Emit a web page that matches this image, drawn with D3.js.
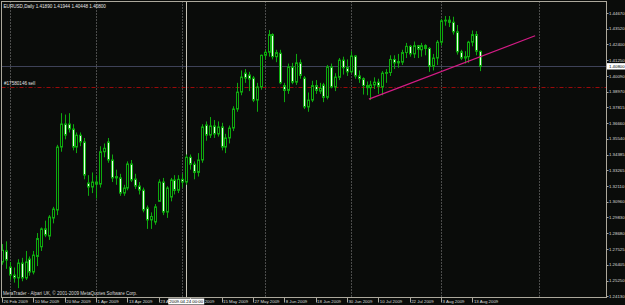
<!DOCTYPE html>
<html>
<head>
<meta charset="utf-8">
<script src="https://cdn.jsdelivr.net/npm/d3@7"></script>
<style>
  body { margin: 0; background: #0a0c0a; }
  svg { display: block; }
</style>
</head>
<body>
<div id="chart"></div>
<script>
// EURUSD daily bars, 26 Feb 2009 .. 17 Aug 2009
const opens = [
  1.2660, 1.2740, 1.2623, 1.2565, 1.2544, 1.2652, 1.2544, 1.2681, 1.2587, 1.2700,
  1.2770, 1.2900, 1.2848, 1.2979, 1.3037, 1.3494, 1.3661, 1.3661, 1.3625, 1.3494,
  1.3580, 1.3531, 1.3233, 1.3204, 1.3240, 1.3225, 1.3460, 1.3531, 1.3400, 1.3270,
  1.3270, 1.3160, 1.3197, 1.3371, 1.3262, 1.3211, 1.3182, 1.3052, 1.2965, 1.2950,
  1.3100, 1.3240, 1.3022, 1.3131, 1.3255, 1.3180, 1.3260, 1.3240, 1.3420, 1.3370,
  1.3310, 1.3400, 1.3654, 1.3581, 1.3647, 1.3589, 1.3640, 1.3494, 1.3560, 1.3632,
  1.3770, 1.3893, 1.4031, 1.4017, 1.3995, 1.3835, 1.3930, 1.4160, 1.4182, 1.4310,
  1.4150, 1.4175, 1.3940, 1.3905, 1.4075, 1.3965, 1.4105, 1.3995, 1.3785, 1.3835,
  1.3940, 1.3900, 1.3945, 1.3855, 1.4075, 1.3930, 1.4000, 1.4125, 1.4070, 1.4040,
  1.4155, 1.4010, 1.3990, 1.3940, 1.3925, 1.3945, 1.3965, 1.3930, 1.4030, 1.4035,
  1.4130, 1.4105, 1.4110, 1.4180, 1.4225, 1.4170, 1.4230, 1.4200, 1.4230, 1.4210,
  1.4080, 1.4140, 1.4255, 1.4410, 1.4415, 1.4400, 1.4330, 1.4185, 1.4140, 1.4150,
  1.4255, 1.4310, 1.4189
];
const highs = [
  1.2790, 1.2810, 1.2660, 1.2620, 1.2680, 1.2690, 1.2740, 1.2700, 1.2740, 1.2870,
  1.2910, 1.2960, 1.3000, 1.3060, 1.3510, 1.3740, 1.3730, 1.3740, 1.3660, 1.3600,
  1.3600, 1.3560, 1.3290, 1.3310, 1.3290, 1.3500, 1.3520, 1.3560, 1.3440, 1.3330,
  1.3300, 1.3220, 1.3390, 1.3400, 1.3300, 1.3240, 1.3200, 1.3070, 1.3020, 1.3080,
  1.3260, 1.3270, 1.3210, 1.3270, 1.3290, 1.3290, 1.3300, 1.3440, 1.3440, 1.3390,
  1.3450, 1.3660, 1.3680, 1.3712, 1.3690, 1.3680, 1.3670, 1.3590, 1.3650, 1.3790,
  1.3960, 1.4050, 1.4060, 1.4040, 1.4010, 1.3960, 1.4165, 1.4200, 1.4343, 1.4320,
  1.4200, 1.4200, 1.3960, 1.4100, 1.4105, 1.4170, 1.4130, 1.4010, 1.3890, 1.3975,
  1.3980, 1.3960, 1.3960, 1.4090, 1.4100, 1.4030, 1.4140, 1.4150, 1.4130, 1.4190,
  1.4160, 1.4050, 1.4000, 1.3970, 1.3975, 1.4000, 1.3990, 1.4045, 1.4060, 1.4160,
  1.4160, 1.4170, 1.4200, 1.4250, 1.4235, 1.4260, 1.4235, 1.4250, 1.4240, 1.4220,
  1.4170, 1.4270, 1.4425, 1.4445, 1.4445, 1.4440, 1.4380, 1.4200, 1.4190, 1.4265,
  1.4340, 1.4335, 1.4194
];
const lows = [
  1.2640, 1.2610, 1.2530, 1.2510, 1.2470, 1.2520, 1.2530, 1.2560, 1.2570, 1.2630,
  1.2740, 1.2840, 1.2820, 1.2940, 1.3000, 1.3460, 1.3550, 1.3600, 1.3470, 1.3450,
  1.3500, 1.3260, 1.3140, 1.3160, 1.3120, 1.3200, 1.3420, 1.3380, 1.3240, 1.3220,
  1.3140, 1.3140, 1.3180, 1.3240, 1.3190, 1.3150, 1.3020, 1.2900, 1.2900, 1.2930,
  1.3100, 1.3000, 1.2980, 1.3100, 1.3150, 1.3160, 1.3200, 1.3220, 1.3330, 1.3260,
  1.3280, 1.3380, 1.3540, 1.3560, 1.3560, 1.3570, 1.3470, 1.3450, 1.3520, 1.3610,
  1.3750, 1.3870, 1.3960, 1.3900, 1.3820, 1.3750, 1.3910, 1.4130, 1.4150, 1.4130,
  1.4110, 1.3950, 1.3820, 1.3880, 1.3950, 1.3945, 1.3990, 1.3770, 1.3750, 1.3820,
  1.3880, 1.3880, 1.3820, 1.3840, 1.3920, 1.3900, 1.3980, 1.4020, 1.4010, 1.4030,
  1.3990, 1.3960, 1.3875, 1.3870, 1.3835, 1.3915, 1.3880, 1.3870, 1.3960, 1.4010,
  1.4060, 1.4070, 1.4090, 1.4140, 1.4150, 1.4140, 1.4140, 1.4150, 1.4160, 1.4040,
  1.4050, 1.4090, 1.4230, 1.4375, 1.4365, 1.4310, 1.4165, 1.4125, 1.4100, 1.4105,
  1.4225, 1.4160, 1.4045
];
const closes = [
  1.2745, 1.2674, 1.2565, 1.2544, 1.2652, 1.2544, 1.2660, 1.2587, 1.2710, 1.2830,
  1.2900, 1.2856, 1.2986, 1.3044, 1.3494, 1.3661, 1.3581, 1.3625, 1.3494, 1.3580,
  1.3531, 1.3291, 1.3204, 1.3240, 1.3225, 1.3460, 1.3485, 1.3400, 1.3270, 1.3280,
  1.3160, 1.3197, 1.3371, 1.3255, 1.3211, 1.3182, 1.3037, 1.2965, 1.2990, 1.3060,
  1.3240, 1.3022, 1.3197, 1.3255, 1.3180, 1.3260, 1.3240, 1.3420, 1.3370, 1.3310,
  1.3400, 1.3640, 1.3581, 1.3647, 1.3589, 1.3640, 1.3494, 1.3560, 1.3632, 1.3770,
  1.3893, 1.4002, 1.3995, 1.3988, 1.3835, 1.3930, 1.4160, 1.4182, 1.4310, 1.4150,
  1.4180, 1.3960, 1.3905, 1.4075, 1.3965, 1.4105, 1.4015, 1.3785, 1.3835, 1.3940,
  1.3905, 1.3920, 1.3855, 1.4075, 1.3930, 1.4002, 1.4125, 1.4070, 1.4040, 1.4155,
  1.4010, 1.3990, 1.3940, 1.3925, 1.3945, 1.3965, 1.3935, 1.4030, 1.4035, 1.4130,
  1.4105, 1.4115, 1.4180, 1.4225, 1.4170, 1.4230, 1.4205, 1.4230, 1.4210, 1.4080,
  1.4140, 1.4255, 1.4410, 1.4415, 1.4400, 1.4330, 1.4185, 1.4140, 1.4150, 1.4255,
  1.4310, 1.4190, 1.4080
];

// date labels along the bottom, one every 8 bars
const xLabels = ["26 Feb 2009", "10 Mar 2009", "20 Mar 2009", "1 Apr 2009", "13 Apr 2009",
  "23 Apr 2009", "5 May 2009", "15 May 2009", "27 May 2009", "8 Jun 2009", "18 Jun 2009",
  "30 Jun 2009", "10 Jul 2009", "22 Jul 2009", "3 Aug 2009", "13 Aug 2009"];
const labelStep = 8;

// price scale labels on the right
const priceTicks = [1.24130, 1.25250, 1.26405, 1.27525, 1.28680, 1.29830, 1.30960, 1.32110,
  1.33265, 1.34385, 1.35540, 1.36660, 1.37815, 1.38970, 1.40090, 1.41250, 1.42400,
  1.43520, 1.44670];

// month separators (bar index) - dotted grid
const gridBars = [2, 24, 46, 67, 89, 112, 137];

// objects on the chart
const headerText = "EURUSD,Daily  1.41890 1.41944 1.40448 1.40800";
const bidPrice = 1.40800;
const orderPrice = 1.3930;
const orderLabel = "#17580146 sell";
const vlineBar = 47;
const vlineLabel = "2009.04.24 00:00";
const trendBars = [93.6, 136];
const trendPrices = [1.3842, 1.4302];
const copyright = "MetaTrader - Alpari UK, \u00a9 2001-2009 MetaQuotes Software Corp.";

const width = 625;
const height = 305;
const plot = { left: 1.5, right: 606.5, top: 1.5, bottom: 297.5 };
const bg = "#0a0c0a";
const candleGreen = "#0eaa0e";
const font = "'Liberation Sans', Arial, sans-serif";
const fs = 4.6;
const axisFs = 4.35;

const svg = d3.select("#chart").append("svg")
  .attr("width", width)
  .attr("height", height)
  .style("background", bg);

const x = d3.scaleLinear().domain([0, opens.length - 1]).range([2, 2 + (opens.length - 1) * 3.92]);
const y = d3.scaleLinear().domain([1.2413, 1.4467]).range([296, 13]);

svg.append("clipPath").attr("id", "plotclip")
  .append("rect")
  .attr("x", plot.left + 0.5).attr("y", plot.top + 0.5)
  .attr("width", plot.right - plot.left - 1).attr("height", plot.bottom - plot.top - 1);

const g = svg.append("g").attr("clip-path", "url(#plotclip)");

// dotted month grid
g.selectAll("line.grid")
  .data(gridBars)
  .enter().append("line")
  .attr("class", "grid")
  .attr("x1", d => Math.round(x(d)) + 0.5)
  .attr("x2", d => Math.round(x(d)) + 0.5)
  .attr("y1", plot.top)
  .attr("y2", plot.bottom)
  .attr("stroke", "#8c8c8c")
  .attr("stroke-dasharray", "1,2");

// bid line
g.append("line")
  .attr("x1", plot.left).attr("x2", plot.right)
  .attr("y1", Math.round(y(bidPrice)) + 0.5).attr("y2", Math.round(y(bidPrice)) + 0.5)
  .attr("stroke", "#3e4258");

// order line (dash-dot)
g.append("line")
  .attr("x1", plot.left).attr("x2", plot.right)
  .attr("y1", Math.round(y(orderPrice)) + 0.5).attr("y2", Math.round(y(orderPrice)) + 0.5)
  .attr("stroke", "#9a0a0a")
  .attr("stroke-dasharray", "4,2,1,2");

// vertical line object
g.append("line")
  .attr("x1", Math.round(x(vlineBar)) + 0.5).attr("x2", Math.round(x(vlineBar)) + 0.5)
  .attr("y1", plot.top).attr("y2", plot.bottom)
  .attr("stroke", "#c8c4b8");

// candles
const bars = d3.range(opens.length);
const candle = g.selectAll("g.candle")
  .data(bars)
  .enter().append("g")
  .attr("class", "candle");

candle.append("line")
  .attr("x1", i => Math.round(x(i)) + 0.5)
  .attr("x2", i => Math.round(x(i)) + 0.5)
  .attr("y1", i => y(highs[i]))
  .attr("y2", i => y(lows[i]))
  .attr("stroke", candleGreen);

candle.append("rect")
  .attr("x", i => Math.round(x(i)) - 0.5)
  .attr("width", 2)
  .attr("y", i => y(Math.max(opens[i], closes[i])))
  .attr("height", i => Math.max(0.8, Math.abs(y(opens[i]) - y(closes[i]))))
  .attr("fill", i => closes[i] < opens[i] ? "#eaffea" : bg)
  .attr("stroke", candleGreen)
  .attr("stroke-width", 1);

// trendline
g.append("line")
  .attr("x1", x(trendBars[0])).attr("y1", y(trendPrices[0]))
  .attr("x2", x(trendBars[1])).attr("y2", y(trendPrices[1]))
  .attr("stroke", "#d41c86")
  .attr("stroke-width", 1.2);

// texts inside chart
svg.append("text")
  .attr("x", 3.5).attr("y", 7.5)
  .attr("font-family", font).attr("font-size", fs)
  .attr("fill", "#e6e6e6")
  .text(headerText);

svg.append("text")
  .attr("x", 4).attr("y", y(orderPrice) - 1.6)
  .attr("font-family", font).attr("font-size", fs)
  .attr("fill", "#e0e0e0")
  .text(orderLabel);

svg.append("text")
  .attr("x", 3).attr("y", 294.8)
  .attr("font-family", font).attr("font-size", fs)
  .attr("fill", "#d8d8d8")
  .text(copyright);

// frame
svg.append("rect")
  .attr("x", plot.left).attr("y", plot.top)
  .attr("width", plot.right - plot.left).attr("height", plot.bottom - plot.top)
  .attr("fill", "none")
  .attr("stroke", "#aca89c");

// right price axis
const yAxis = svg.append("g");
yAxis.selectAll("line")
  .data(priceTicks)
  .enter().append("line")
  .attr("x1", plot.right).attr("x2", plot.right + 2)
  .attr("y1", d => Math.round(y(d)) + 0.5).attr("y2", d => Math.round(y(d)) + 0.5)
  .attr("stroke", "#aca89c");
yAxis.selectAll("text")
  .data(priceTicks)
  .enter().append("text")
  .attr("x", plot.right + 2.5)
  .attr("y", d => y(d) + 1.6)
  .attr("font-family", font).attr("font-size", axisFs)
  .attr("fill", "#dcdcdc")
  .text(d => d.toFixed(5));

// current price box
svg.append("rect")
  .attr("x", plot.right + 0.5).attr("y", y(bidPrice) - 3.2)
  .attr("width", 18.5).attr("height", 6.4)
  .attr("fill", "#ffffff");
svg.append("text")
  .attr("x", plot.right + 2.5).attr("y", y(bidPrice) + 1.6)
  .attr("font-family", font).attr("font-size", axisFs)
  .attr("fill", "#000000")
  .text(bidPrice.toFixed(5));

// bottom date axis
const xAxis = svg.append("g");
xAxis.selectAll("line")
  .data(xLabels)
  .enter().append("line")
  .attr("x1", (d, i) => Math.round(x(i * labelStep)) + 0.5)
  .attr("x2", (d, i) => Math.round(x(i * labelStep)) + 0.5)
  .attr("y1", plot.bottom).attr("y2", plot.bottom + 5)
  .attr("stroke", "#aca89c");
xAxis.selectAll("text")
  .data(xLabels)
  .enter().append("text")
  .attr("x", (d, i) => x(i * labelStep) + 1.5)
  .attr("y", 303)
  .attr("font-family", font).attr("font-size", axisFs)
  .attr("fill", "#dcdcdc")
  .text(d => d);

// date box of the vertical line
svg.append("rect")
  .attr("x", x(vlineBar) - 18).attr("y", 298.5)
  .attr("width", 36).attr("height", 6)
  .attr("fill", "#ffffff");
svg.append("text")
  .attr("x", x(vlineBar)).attr("y", 303)
  .attr("text-anchor", "middle")
  .attr("font-family", font).attr("font-size", axisFs)
  .attr("fill", "#000000")
  .text(vlineLabel);
</script>
</body>
</html>
